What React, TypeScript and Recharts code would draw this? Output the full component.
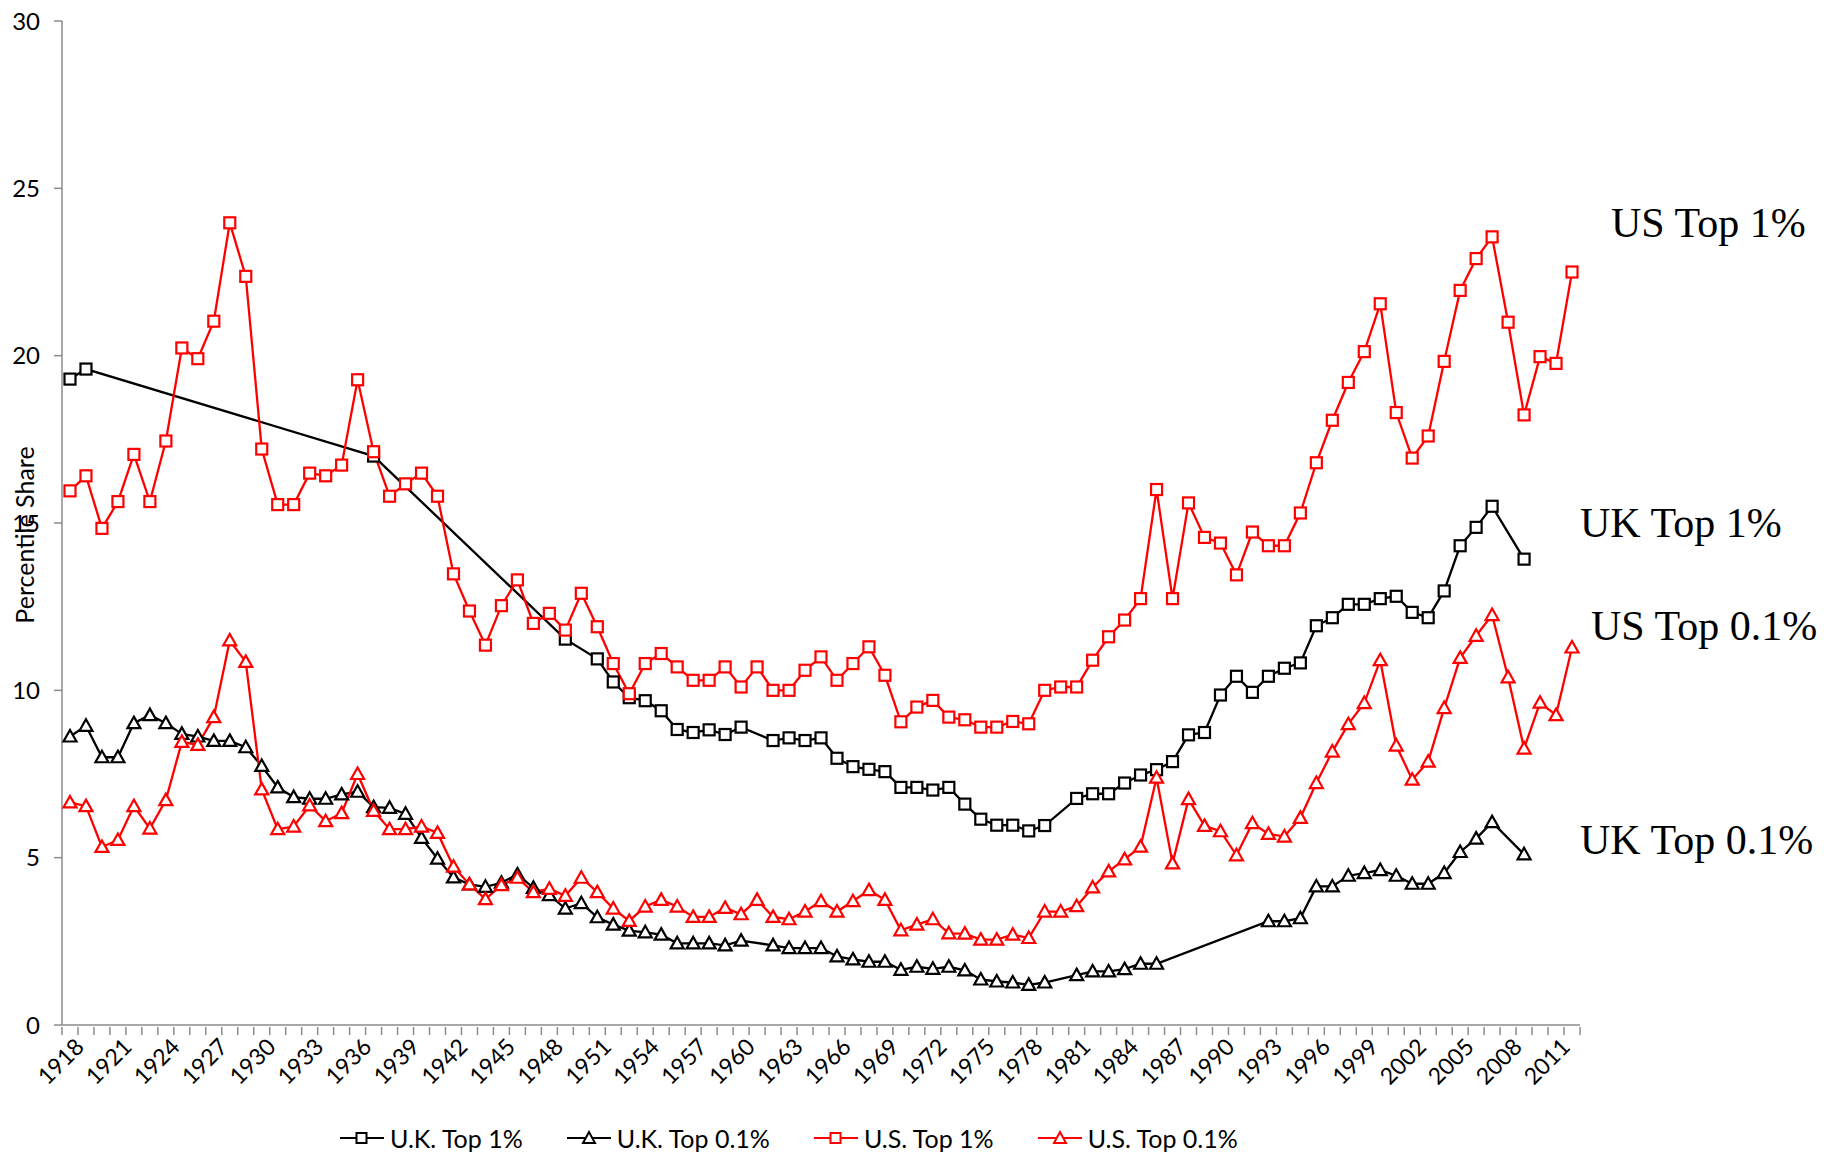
import React from "react";
import {
  LineChart,
  Line,
  XAxis,
  YAxis,
  Legend,
  Customized,
} from "recharts";

const n = null;

const years = [
  1918, 1919, 1920, 1921, 1922, 1923, 1924, 1925, 1926, 1927, 1928, 1929,
  1930, 1931, 1932, 1933, 1934, 1935, 1936, 1937, 1938, 1939, 1940, 1941,
  1942, 1943, 1944, 1945, 1946, 1947, 1948, 1949, 1950, 1951, 1952, 1953,
  1954, 1955, 1956, 1957, 1958, 1959, 1960, 1961, 1962, 1963, 1964, 1965,
  1966, 1967, 1968, 1969, 1970, 1971, 1972, 1973, 1974, 1975, 1976, 1977,
  1978, 1979, 1980, 1981, 1982, 1983, 1984, 1985, 1986, 1987, 1988, 1989,
  1990, 1991, 1992, 1993, 1994, 1995, 1996, 1997, 1998, 1999, 2000, 2001,
  2002, 2003, 2004, 2005, 2006, 2007, 2008, 2009, 2010, 2011, 2012,
];

// U.K. Top 1%
const ukTop1 = [
  19.3, 19.6,
  n, n, n, n, n, n, n, n, n, n,
  n, n, n, n, n, n, n, 17.0, n, n,
  n, n, n, n, n, n, n, n, n, 11.53,
  n, 10.94, 10.25, 9.78, 9.69, 9.39, 8.83, 8.74, 8.82, 8.68,
  8.9, n, 8.5, 8.58, 8.5, 8.58, 7.97, 7.72, 7.64, 7.57,
  7.1, 7.1, 7.02, 7.1, 6.6, 6.15, 5.97, 5.97, 5.8, 5.96,
  n, 6.77, 6.91, 6.91, 7.23, 7.47, 7.63, 7.87, 8.67, 8.74,
  9.86, 10.42, 9.94, 10.42, 10.66, 10.82, 11.93, 12.17, 12.57, 12.57,
  12.74, 12.81, 12.33, 12.17, 12.97, 14.32, 14.87, 15.5, n, 13.92,
  n, n, n,
];

// U.K. Top 0.1%
const ukTop01 = [
  8.62, 8.94,
  8.0, 8.0, 9.02, 9.26, 9.02, 8.7, 8.62, 8.49, 8.49, 8.3,
  7.74, 7.1, 6.81, 6.76, 6.76, 6.89, 6.97, 6.51, 6.49, 6.31,
  5.59, 4.97, 4.41, 4.2, 4.13, 4.25, 4.5, 4.1, 3.88, 3.48,
  3.64, 3.22, 3.0, 2.82, 2.77, 2.7, 2.44, 2.44, 2.44, 2.38,
  2.52, n, 2.38, 2.3, 2.3, 2.3, 2.05, 1.96, 1.89, 1.89,
  1.65, 1.74, 1.68, 1.74, 1.63, 1.36, 1.3, 1.27, 1.2, 1.27,
  n, 1.49, 1.6, 1.6, 1.67, 1.83, 1.83, n, n, n,
  n, n, n, 3.1, 3.1, 3.19, 4.14, 4.14, 4.46, 4.54,
  4.63, 4.46, 4.22, 4.22, 4.54, 5.17, 5.57, 6.06, n, 5.1,
  n, n, n,
];

// U.S. Top 1%
const usTop1 = [
  15.96, 16.41,
  14.84, 15.64, 17.05, 15.64, 17.45, 20.23, 19.91, 21.03, 23.97, 22.37,
  17.21, 15.55, 15.55, 16.49, 16.41, 16.73, 19.28, 17.13, 15.8, 16.17,
  16.49, 15.8, 13.48, 12.37, 11.35, 12.53, 13.3, 12.0, 12.3, 11.8,
  12.9, 11.9, 10.8, 9.9, 10.8, 11.1, 10.7, 10.3, 10.3, 10.7,
  10.1, 10.7, 10.0, 10.0, 10.6, 11.0, 10.3, 10.8, 11.3, 10.45,
  9.06, 9.5, 9.7, 9.2, 9.12, 8.9, 8.9, 9.07, 9.0, 10.0,
  10.1, 10.1, 10.9, 11.6, 12.1, 12.74, 16.0, 12.74, 15.6, 14.57,
  14.4, 13.45, 14.73, 14.32, 14.32, 15.3, 16.8, 18.07, 19.2, 20.12,
  21.55, 18.3, 16.94, 17.6, 19.83, 21.95, 22.9, 23.55, 21.0, 18.23,
  19.97, 19.77, 22.5,
];

// U.S. Top 0.1%
const usTop01 = [
  6.65, 6.54,
  5.32, 5.53, 6.54, 5.87, 6.72, 8.46, 8.37, 9.2, 11.49, 10.85,
  7.04, 5.85, 5.93, 6.56, 6.09, 6.33, 7.5, 6.4, 5.85, 5.85,
  5.93, 5.74, 4.73, 4.2, 3.76, 4.18, 4.4, 3.97, 4.07, 3.86,
  4.4, 3.97, 3.48, 3.11, 3.54, 3.74, 3.54, 3.23, 3.23, 3.5,
  3.31, 3.74, 3.23, 3.16, 3.39, 3.7, 3.39, 3.7, 4.03, 3.74,
  2.83, 3.0, 3.16, 2.74, 2.73, 2.55, 2.55, 2.7, 2.6, 3.39,
  3.39, 3.55, 4.11, 4.59, 4.95, 5.33, 7.39, 4.83, 6.75, 5.95,
  5.79, 5.07, 6.03, 5.71, 5.63, 6.19, 7.23, 8.17, 8.99, 9.62,
  10.9, 8.35, 7.33, 7.87, 9.47, 10.97, 11.63, 12.25, 10.39, 8.26,
  9.63, 9.26, 11.28,
];

const yTicks = [0, 5, 10, 15, 20, 25, 30];

const seriesLabels = ["U.K. Top 1%", "U.K. Top 0.1%", "U.S. Top 1%", "U.S. Top 0.1%"];
const sideLabels = ["US Top 1%", "UK Top 1%", "US Top 0.1%", "UK Top 0.1%"];

const data = years.map((year, i) => ({
  year,
  ukTop1: ukTop1[i],
  ukTop01: ukTop01[i],
  usTop1: usTop1[i],
  usTop01: usTop01[i],
}));

const W = 1824;
const H = 1158;
const PLOT_LEFT = 62;
const PLOT_RIGHT = 1580;
const BAND = (PLOT_RIGHT - PLOT_LEFT) / years.length;
const AXIS_GREY = "#8c8c8c";
const SANS = "Lato, 'Open Sans', sans-serif";
const SERIF = "'Liberation Serif', 'DejaVu Serif', serif";

const squareDot = (color: string) => (props: any) => {
  const { cx, cy, value, index } = props;
  if (value == null || cy == null) return <g key={index} />;
  return (
    <rect
      key={index}
      x={cx - 5.5}
      y={cy - 5.5}
      width={11}
      height={11}
      fill="#fff"
      stroke={color}
      strokeWidth={2.2}
    />
  );
};

const triDot = (color: string) => (props: any) => {
  const { cx, cy, value, index } = props;
  if (value == null || cy == null) return <g key={index} />;
  return (
    <polygon
      key={index}
      points={`${cx},${cy - 6.5} ${cx + 6.5},${cy + 5} ${cx - 6.5},${cy + 5}`}
      fill="#fff"
      stroke={color}
      strokeWidth={2.2}
    />
  );
};

const YearTick = (props: any) => {
  const { x, y, payload } = props;
  const year = payload.value;
  const left = x - BAND / 2;
  const showLabel = (year - years[0]) % 3 === 0;
  return (
    <g>
      <line x1={left} y1={y} x2={left} y2={y + 8} stroke={AXIS_GREY} strokeWidth={1.5} />
      {year === years[years.length - 1] && (
        <line x1={x + BAND / 2} y1={y} x2={x + BAND / 2} y2={y + 8} stroke={AXIS_GREY} strokeWidth={1.5} />
      )}
      {showLabel && (
        <text
          x={x + 9}
          y={y + 15}
          textAnchor="end"
          dominantBaseline="central"
          transform={`rotate(-45, ${x + 9}, ${y + 15})`}
          fontFamily={SANS}
          fontSize={23}
          fill="#000"
        >
          {year}
        </text>
      )}
    </g>
  );
};

const LegendIcon = ({ color, shape }: { color: string; shape: "square" | "tri" }) => (
  <svg width={44} height={16} style={{ display: "block" }}>
    <line x1={0} y1={8} x2={44} y2={8} stroke={color} strokeWidth={2.2} />
    {shape === "square" ? (
      <rect x={16.5} y={3} width={10} height={10} fill="#fff" stroke={color} strokeWidth={2} />
    ) : (
      <polygon points="22,2 28,13 16,13" fill="#fff" stroke={color} strokeWidth={2} />
    )}
  </svg>
);

const legendItems = [
  { label: seriesLabels[0], color: "#000", shape: "square" as const },
  { label: seriesLabels[1], color: "#000", shape: "tri" as const },
  { label: seriesLabels[2], color: "#ff0000", shape: "square" as const },
  { label: seriesLabels[3], color: "#ff0000", shape: "tri" as const },
];

const LegendContent = () => (
  <div
    style={{
      display: "flex",
      alignItems: "center",
      paddingLeft: 340,
      marginTop: 5,
      gap: 44,
      fontFamily: SANS,
      fontSize: 25,
      color: "#000",
    }}
  >
    {legendItems.map((it) => (
      <div key={it.label} style={{ display: "flex", alignItems: "center", gap: 6 }}>
        <LegendIcon color={it.color} shape={it.shape} />
        <span>{it.label}</span>
      </div>
    ))}
  </div>
);

const SideLabels = () => {
  const pos = [
    { x: 1611, y: 237 },
    { x: 1580, y: 537 },
    { x: 1591, y: 640 },
    { x: 1580, y: 854 },
  ];
  return (
    <g>
      {sideLabels.map((t, i) => (
        <text key={t} x={pos[i].x} y={pos[i].y} fontFamily={SERIF} fontSize={42} fill="#000">
          {t}
        </text>
      ))}
      <text
        x={24}
        y={535}
        textAnchor="middle"
        dominantBaseline="central"
        transform="rotate(-90, 24, 535)"
        fontFamily={SANS}
        fontSize={25}
        fill="#000"
      >
        Percentile Share
      </text>
    </g>
  );
};

export default function App() {
  return (
    <div style={{ position: "absolute", left: 0, top: 0, width: W, height: H, background: "#fff" }}>
      <LineChart
        width={W}
        height={H}
        data={data}
        margin={{ top: 21, right: W - PLOT_RIGHT, left: 0, bottom: 0 }}
      >
        <XAxis
          dataKey="year"
          type="number"
          domain={[years[0] - 0.5, years[years.length - 1] + 0.5]}
          ticks={years}
          interval={0}
          tick={<YearTick />}
          tickLine={false}
          tickSize={0}
          height={93}
          axisLine={{ stroke: AXIS_GREY, strokeWidth: 1.5 }}
        />
        <YAxis
          domain={[0, 30]}
          ticks={yTicks}
          width={PLOT_LEFT}
          tickSize={8}
          tickMargin={14}
          axisLine={{ stroke: AXIS_GREY, strokeWidth: 1.5 }}
          tickLine={{ stroke: AXIS_GREY, strokeWidth: 1.5 }}
          tick={{ fontFamily: SANS, fontSize: 24, fill: "#000" }}
        />
        <Legend verticalAlign="bottom" height={40} content={<LegendContent />} />
        <Line
          dataKey="ukTop1"
          stroke="#000"
          strokeWidth={2.3}
          dot={squareDot("#000")}
          connectNulls
          isAnimationActive={false}
        />
        <Line
          dataKey="ukTop01"
          stroke="#000"
          strokeWidth={2.3}
          dot={triDot("#000")}
          connectNulls
          isAnimationActive={false}
        />
        <Line
          dataKey="usTop1"
          stroke="#ff0000"
          strokeWidth={2.3}
          dot={squareDot("#ff0000")}
          connectNulls
          isAnimationActive={false}
        />
        <Line
          dataKey="usTop01"
          stroke="#ff0000"
          strokeWidth={2.3}
          dot={triDot("#ff0000")}
          connectNulls
          isAnimationActive={false}
        />
        <Customized component={<SideLabels />} />
      </LineChart>
    </div>
  );
}
